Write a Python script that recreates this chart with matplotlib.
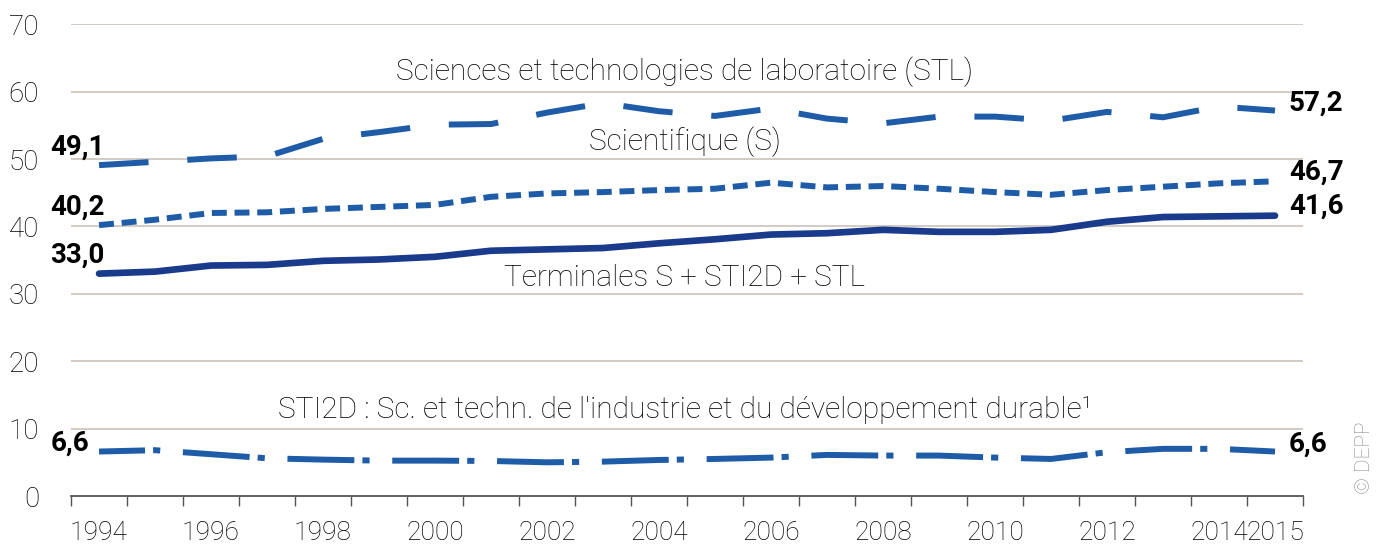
import matplotlib
matplotlib.use("Agg")
from matplotlib import pyplot as plt

# share of girls-style series, 1994-2015
years = list(range(1994, 2016))
stl = [49.1, 49.6, 50.1, 50.4, 53.0, 54.0, 55.1, 55.2, 56.9, 58.3, 57.1,
       56.4, 57.5, 56.0, 55.3, 56.3, 56.3, 55.7, 57.0, 56.2, 57.8, 57.2]
sci = [40.2, 41.0, 42.0, 42.1, 42.6, 42.9, 43.2, 44.4, 44.9, 45.1, 45.4,
       45.6, 46.5, 45.8, 46.0, 45.6, 45.1, 44.7, 45.4, 45.9, 46.4, 46.7]
total = [33.0, 33.3, 34.2, 34.3, 34.9, 35.1, 35.5, 36.4, 36.6, 36.8, 37.5,
         38.1, 38.8, 39.0, 39.5, 39.2, 39.2, 39.5, 40.7, 41.4, 41.5, 41.6]
sti2d = [6.6, 6.8, 6.2, 5.6, 5.4, 5.25, 5.25, 5.2, 5.0, 5.1, 5.35,
         5.5, 5.7, 6.1, 6.0, 6.0, 5.7, 5.5, 6.5, 7.0, 7.0, 6.6]

label_years = [1994, 1996, 1998, 2000, 2002, 2004, 2006, 2008, 2010, 2012, 2014, 2015]
yticks = [0, 10, 20, 30, 40, 50, 60, 70]

plt.rcParams['font.family'] = ['Roboto', 'DejaVu Sans']

blue = "#1f5ca8"
navy = "#1a3a8c"
grid_col = "#cbc1ba"
txt = "#000000"

fig = plt.figure(figsize=(13.85, 5.51), dpi=100)
ax = fig.add_axes([0.0513, 0.0998, 0.8895, 0.8561])

x = list(range(len(years)))

ax.plot(x, stl, color=blue, lw=4.3, dashes=(8.3, 6.5), dash_capstyle='butt')
ax.plot(x, sci, color=blue, lw=4.3, dashes=(2.5, 1.3), dash_capstyle='butt')
ax.plot(x, total, color=navy, lw=4.8, solid_capstyle='round')
ax.plot(x, sti2d, color=blue, lw=4.3, linestyle=(3.5, (11.2, 1.35, 1.2, 3.8)),
        dash_capstyle='butt')

ax.set_xlim(-0.5, len(years) - 0.5)
ax.set_ylim(0, 70)

# grid lines
for y in yticks[1:]:
    ax.axhline(y, color=grid_col, lw=1.2, zorder=0)

for s in ['top', 'right', 'left']:
    ax.spines[s].set_visible(False)
ax.spines['bottom'].set_color("#555555")
ax.spines['bottom'].set_linewidth(1.3)

ax.set_yticks(yticks)
ax.set_yticklabels([str(v) for v in yticks])
ax.tick_params(axis='y', length=0, pad=23, labelsize=20, labelcolor=txt)

ax.set_xticks([years.index(y) for y in label_years])
ax.set_xticklabels([str(y) for y in label_years])
ax.set_xticks([i - 0.5 for i in range(len(years) + 1)], minor=True)
ax.tick_params(axis='x', which='major', length=0, pad=18, labelsize=19,
               labelcolor=txt)
ax.tick_params(axis='x', which='minor', length=7.5, width=1, color="#555555",
               direction='out')
for lab in ax.get_xticklabels() + ax.get_yticklabels():
    lab.set_fontweight('light')

# end-point values
def fmt(v):
    return f"{v:.1f}".replace('.', ',')

for series, dy in [(stl, 13), (sci, 13), (total, 13), (sti2d, 6)]:
    ax.annotate(fmt(series[0]), xy=(0, series[0]), xytext=(4 if dy > 10 else -7, dy),
                textcoords='offset points', ha='right', va='center',
                fontsize=20, fontweight='bold', color='black')

for series, dy in [(stl, 5), (sci, 6.5), (total, 6.5), (sti2d, 5)]:
    ax.annotate(fmt(series[-1]), xy=(len(years) - 1, series[-1]), xytext=(10, dy),
                textcoords='offset points', ha='left', va='center',
                fontsize=20, fontweight='bold', color='black')

# series names
name_kw = dict(ha='center', va='center', fontsize=21.5, fontweight='light', color=txt)
ax.text(10.46, 62.9, "Sciences et technologies de laboratoire (STL)", **name_kw)
ax.text(10.46, 52.5, "Scientifique (S)", **name_kw)
ax.text(10.46, 32.3, "Terminales S + STI2D + STL", **name_kw)
ax.text(10.46, 12.8, "STI2D : Sc. et techn. de l'industrie et du développement durable\u00b9",
        **name_kw)

fig.text(0.9855, 0.169, "© DEPP", rotation=90, ha='center', va='center',
         fontsize=15, color="#8a8a8a", fontweight='light')

fig.savefig("out.png", dpi=100)
